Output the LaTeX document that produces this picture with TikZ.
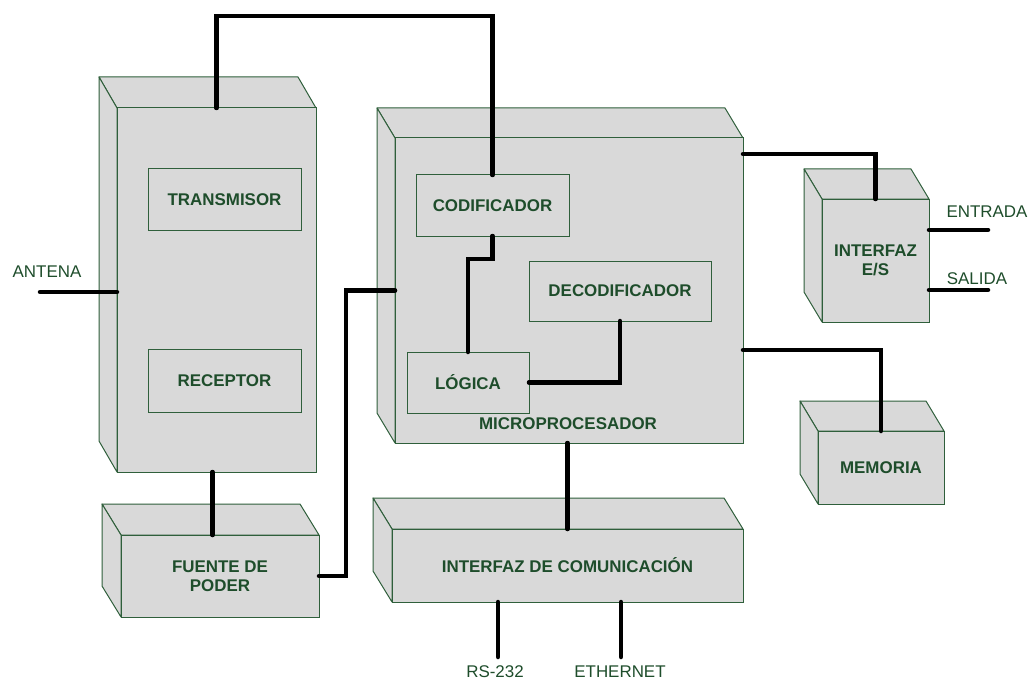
\documentclass[tikz,border=0pt]{standalone}
\usepackage{fontspec}
\setmainfont{Liberation Sans}
\definecolor{edgec}{HTML}{2F5F3B}
\definecolor{txtc}{HTML}{1E4D2B}
\definecolor{boxfill}{HTML}{D9D9D9}
\tikzset{
  cubeedge/.style={draw=edgec, fill=boxfill, line width=1bp, line join=round},
  front/.style={draw=edgec, fill=boxfill, line width=1bp, inner sep=0pt, outer sep=0pt, rectangle},
  btxt/.style={font=\fontsize{17}{19}\selectfont\bfseries, text=txtc, align=center, inner sep=0pt},
  innerbox/.style={front, btxt},
  wire/.style={line width=4.5bp, line cap=round, draw=black},
  lbl/.style={font=\fontsize{17}{19}\selectfont, text=txtc, inner sep=0pt},
}
\newcommand\cubebox[8]{%
  \draw[cubeedge] ({#2-#6},{#3-#7}) -- ({#4-#6},{#3-#7}) -- (#4,#3) -- (#2,#3) -- cycle;
  \draw[cubeedge] ({#2-#6},{#3-#7}) -- (#2,#3) -- (#2,#5) -- ({#2-#6},{#5-#7}) -- cycle;
  \node[front, btxt, minimum width={(#4-#2)*1bp}, minimum height={(#5-#3)*1bp}] (#1) at ({(#2+#4)/2},{(#3+#5)/2}) {#8};
}
\newcommand\flatbox[6]{%
  \node[innerbox, minimum width={(#4-#2)*1bp}, minimum height={(#5-#3)*1bp}] (#1) at ({(#2+#4)/2},{(#3+#5)/2}) {#6};
}
\begin{document}
\begin{tikzpicture}[x=1bp, y=-1bp]
\useasboundingbox[fill=white] (0,0) rectangle (1031,681);

% cubes
\cubebox{radio}{117}{108}{316}{472}{18}{31}{}
\cubebox{fuente}{121}{535}{319}{617}{19}{31}{FUENTE DE\\PODER}
\cubebox{micro}{395}{138}{743}{443}{18}{30}{}
\cubebox{es}{822}{199}{929}{322}{18}{30}{INTERFAZ\\E/S}
\cubebox{mem}{818}{431}{944}{504}{18}{30}{MEMORIA}
\cubebox{comm}{392}{529}{743}{602}{19}{31}{INTERFAZ DE COMUNICACIÓN}

% inner boxes
\flatbox{tx}{148}{169}{301}{230}{TRANSMISOR}
\flatbox{rx}{148}{349}{301}{412}{RECEPTOR}
\flatbox{cod}{416}{175}{569}{236}{CODIFICADOR}
\flatbox{dec}{529}{261}{711}{321}{DECODIFICADOR}
\flatbox{log}{407}{352}{529}{413}{LÓGICA}
\node[btxt] (mptxt) at (568,424) {MICROPROCESADOR};

% free ends
\coordinate (ant) at (40,292);
\coordinate (ent) at (988,230);
\coordinate (sal) at (988,290);
\coordinate (rs) at (498,657);
\coordinate (eth) at (621,657);

% labels
\node[lbl] (antl) at (47,272) {ANTENA};
\node[lbl] (entl) at (987,212) {ENTRADA};
\node[lbl] (sall) at (977,279) {SALIDA};
\node[lbl] (rsl) at (495,672) {RS-232};
\node[lbl] (ethl) at (620,672) {ETHERNET};

% wires
\draw[wire] (radio.north) -- ++(0,-92) -| (cod.north);
\draw[wire] (cod.south) -- ++(0,23) -| (log.north);
\draw[wire] (log.east) -| (dec.south);
\draw[wire] (ant) -- (ant -| radio.west);
\draw[wire] ([xshift=-4bp]radio.south) -- ([xshift=-4bp]radio.south |- fuente.north);
\draw[wire] (fuente.east) -- ++(27,0) |- (micro.west);
\draw[wire] ([yshift=-16bp]micro.north east) -| (es.north);
\draw[wire] ([yshift=-59.5bp]micro.east) -| (mem.north);
\draw[wire] (micro.south -| comm.north) -- (comm.north);
\draw[wire] (comm.south -| rs) -- (rs);
\draw[wire] (comm.south -| eth) -- (eth);
\draw[wire] (es.east |- ent) -- (ent);
\draw[wire] (es.east |- sal) -- (sal);
\end{tikzpicture}
\end{document}
